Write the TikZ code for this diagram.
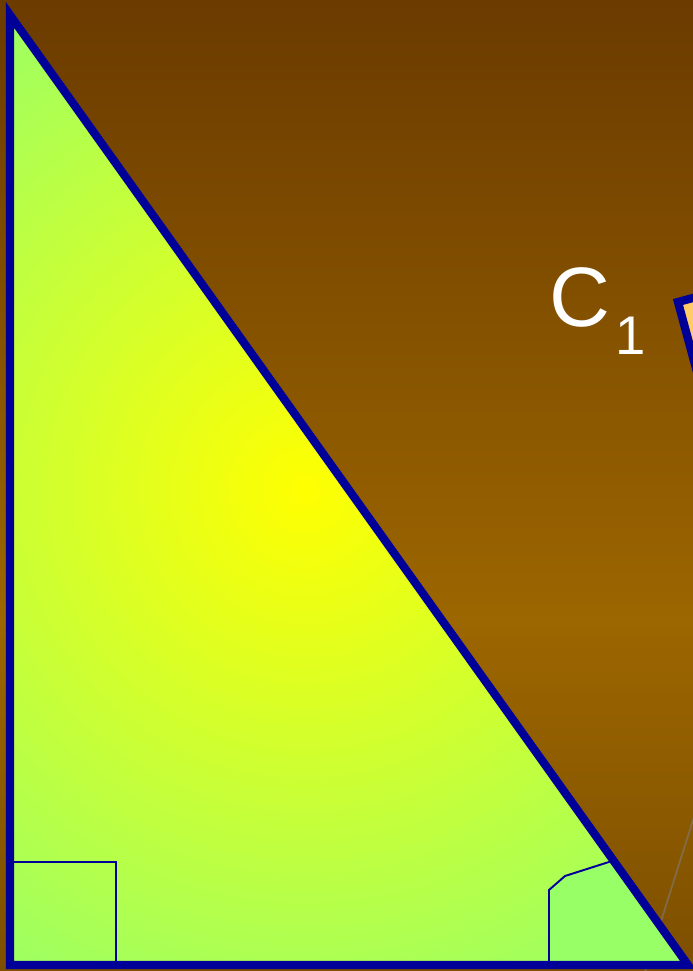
\documentclass[tikz,border=0pt]{standalone}
\usepackage{fontspec}
\setmainfont{Liberation Sans}
\definecolor{fondoarriba}{RGB}{107,59,0}
\definecolor{fondomedio}{RGB}{156,102,0}
\definecolor{fondoabajo}{RGB}{125,79,0}
\definecolor{azul}{RGB}{0,0,153}
\definecolor{verde}{RGB}{153,255,102}
\definecolor{naranja}{RGB}{255,204,102}

\begin{document}
\begin{tikzpicture}[x=0.02cm,y=-0.02cm,line join=miter]
  \useasboundingbox (0,0) rectangle (693,971);
  \clip (0,0) rectangle (693,971);
  % fondo
  \shade[top color=fondoarriba,bottom color=fondomedio] (0,0) rectangle (693,622);
  \shade[top color=fondomedio,bottom color=fondoabajo] (0,620) rectangle (693,971);
  % vertices
  \coordinate (A) at (10,15);
  \coordinate (B) at (10,965);
  \coordinate (C) at (688,965);
  % linea gris
  \draw[gray,opacity=0.55,line width=1pt] (644,975)--(712,760);
  % cuadrado del cateto
  \filldraw[fill=naranja,draw=azul,line width=4.7pt] (678,302)--(818,264)--(856,404)--(716,442)--cycle;
  % relleno del triangulo
  \fill[verde] (A)--(B)--(C)--cycle;
  \begin{scope}
    \clip (A)--(B)--(C)--cycle;
    \shade[inner color=yellow,outer color=verde] (305,490) circle (580);
  \end{scope}
  % angulo agudo
  \fill[verde] (549,965)--(549,890)--(565,876)--(614,861)--(C)--cycle;
  \draw[azul,line width=1.1pt] (549,965)--(549,890)--(565,876)--(612,861);
  % angulo recto
  \draw[azul,line width=1.1pt] (10,862)--(116,862)--(116,965);
  % borde
  \draw[azul,line width=4.7pt] (A)--(B)--(C)--cycle;
  % etiqueta
  \node[white,anchor=base west,inner sep=0] (c1) at (549,326)
    {\fontsize{48}{56}\selectfont C\hspace{3pt}\raisebox{-16.4pt}{\fontsize{31}{37}\selectfont 1}};
\end{tikzpicture}
\end{document}
